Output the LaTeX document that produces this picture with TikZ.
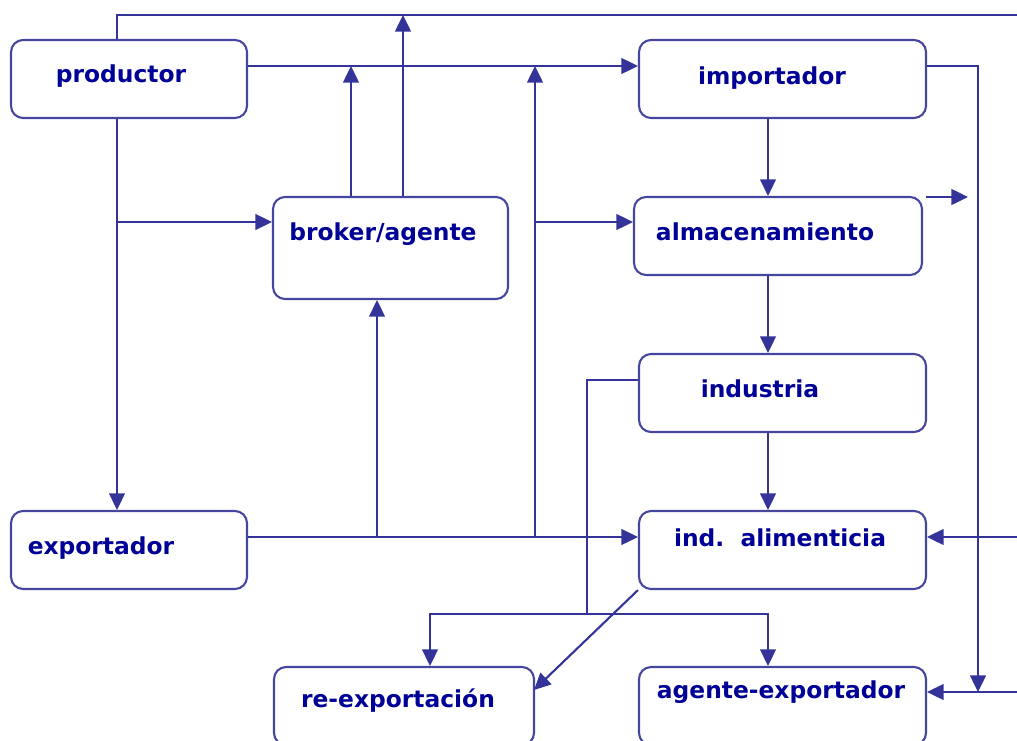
\documentclass[tikz,border=0pt]{standalone}
\usepackage{fontspec}
\setmainfont{DejaVu Sans}
\usetikzlibrary{arrows.meta}
\definecolor{flujo}{RGB}{51,51,153}
\definecolor{marco}{RGB}{70,70,160}
\definecolor{rotulo}{RGB}{0,0,150}

\begin{document}
\begin{tikzpicture}[x=0.02cm, y=-0.02cm,
    caja/.style={draw=marco, line width=1.2pt, rounded corners=0.24cm, inner sep=0pt},
    rotulo/.style={text=rotulo, font=\bfseries\fontsize{13.3}{15}\selectfont, anchor=mid, inner sep=0pt},
    linea/.style={draw=flujo, line width=1.2pt},
    flecha/.style={linea, -{Triangle[length=9.5pt, width=9pt]}}]
            \useasboundingbox (0,0) rectangle (1017,740);
            \clip (0,0) rectangle (1017,740);

            % cajas
            \node[caja, minimum width=4.72cm, minimum height=1.56cm] (productor) at (129,79) {};
            \node[caja, minimum width=4.70cm, minimum height=2.04cm] (broker) at (390.5,248) {};
            \node[caja, minimum width=5.74cm, minimum height=1.56cm] (importador) at (782.5,79) {};
            \node[caja, minimum width=5.76cm, minimum height=1.56cm] (almacen) at (778,236) {};
            \node[caja, minimum width=5.74cm, minimum height=1.56cm] (industria) at (782.5,393) {};
            \node[caja, minimum width=5.74cm, minimum height=1.56cm] (alimenticia) at (782.5,550) {};
            \node[caja, minimum width=4.72cm, minimum height=1.56cm] (exportador) at (129,550) {};
            \node[caja, minimum width=5.20cm, minimum height=1.56cm] (reexport) at (404,706) {};
            \node[caja, minimum width=5.74cm, minimum height=1.56cm] (agente) at (782.5,706) {};

            \node[rotulo] (t-productor) at (121,78) {productor};
            \node[rotulo] (t-broker) at (383,236) {broker/agente};
            \node[rotulo] (t-importador) at (772,80) {importador};
            \node[rotulo] (t-almacen) at (765,236) {almacenamiento};
            \node[rotulo] (t-industria) at (760,393) {industria};
            \node[rotulo] (t-alimenticia) at (780,542) {ind.\ \ alimenticia};
            \node[rotulo] (t-exportador) at (101,550) {exportador};
            \node[rotulo] (t-reexport) at (398,703) {re-exportación};
            \node[rotulo] (t-agente) at (781,694) {agente-exportador};

            % puntos de paso
            \coordinate (a1) at (117,15);
            \coordinate (a2) at (117,222);
            \coordinate (finT) at (1017,15);
            \coordinate (b1) at (351,66);
            \coordinate (b2) at (403,15);
            \coordinate (e1) at (535,537);
            \coordinate (e2) at (377,537);
            \coordinate (m1) at (535,222);
            \coordinate (k1) at (768,614);
            \coordinate (q1) at (430,614);
            \coordinate (d1) at (587,380);
            \coordinate (d2) at (587,614);
            \coordinate (r2) at (978,66);
            \coordinate (r3) at (978,692);
            \coordinate (s1) at (926,197);
            \coordinate (s2) at (968,197);
            \coordinate (finM) at (1017,537);
            \coordinate (finB) at (1017,692);
            \coordinate (g1) at (534,690);

            % conexiones
            \draw[linea] (productor.north -| a1) -- (a1) -- (finT);
            \draw[flecha] (broker.north -| b2) -- (b2);
            \draw[flecha] (broker.north -| b1) -- (b1);
            \draw[flecha] (productor.east |- b1) -- (importador.west |- b1);
            \draw[flecha] (e1) -- (e1 |- b1);
            \draw[flecha] (m1) -- (m1 -| almacen.west);
            \draw[flecha] (productor.south -| a1) -- (exportador.north -| a1);
            \draw[flecha] (a2) -- (a2 -| broker.west);
            \draw[flecha] (exportador.east |- e1) -- (e1 -| alimenticia.west);
            \draw[flecha] (e2) -- (e2 |- broker.south);
            \draw[flecha] (importador.south -| k1) -- (almacen.north -| k1);
            \draw[flecha] (almacen.south -| k1) -- (industria.north -| k1);
            \draw[flecha] (industria.south -| k1) -- (alimenticia.north -| k1);
            \draw[flecha] (importador.east |- r2) -- (r2) -- (r3);
            \draw[flecha] (s1) -- (s2);
            \draw[flecha] (finM) -- (finM -| alimenticia.east);
            \draw[flecha] (finB) -- (finB -| agente.east);
            \draw[linea] (industria.west |- d1) -- (d1) -- (d2);
            \draw[flecha] (d2) -- (q1) -- (q1 |- reexport.north);
            \draw[flecha] (d2) -- (k1) -- (agente.north -| k1);
            \draw[flecha] (alimenticia.south west) -- (g1);
        \end{tikzpicture}
\end{document}
